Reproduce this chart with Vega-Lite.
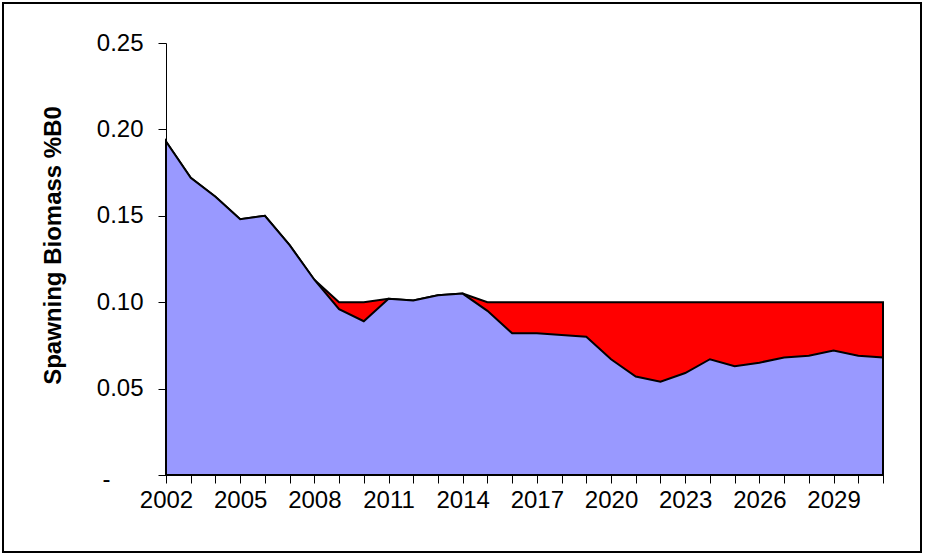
{
  "$schema": "https://vega.github.io/schema/vega-lite/v6.json",
  "width": 918,
  "height": 549,
  "autosize": {"type": "none"},
  "padding": {"left": 3, "top": 3, "right": 4, "bottom": 4},
  "background": "white",
  "config": {
    "view": {"stroke": "black", "strokeWidth": 2},
    "axis": {
      "grid": false,
      "domainColor": "black",
      "domainWidth": 1,
      "tickColor": "black",
      "tickWidth": 1,
      "tickSize": 8,
      "labelFont": "Liberation Sans",
      "labelFontSize": 24,
      "labelColor": "black",
      "labelOverlap": false,
      "labelFlush": false,
      "titleFont": "Liberation Sans",
      "titleColor": "black"
    }
  },
  "data": {
    "values": [
      {"year": 2002, "sb": 0.193, "upper": 0.193},
      {"year": 2003, "sb": 0.172, "upper": 0.172},
      {"year": 2004, "sb": 0.161, "upper": 0.161},
      {"year": 2005, "sb": 0.148, "upper": 0.148},
      {"year": 2006, "sb": 0.150, "upper": 0.150},
      {"year": 2007, "sb": 0.133, "upper": 0.133},
      {"year": 2008, "sb": 0.113, "upper": 0.113},
      {"year": 2009, "sb": 0.096, "upper": 0.100},
      {"year": 2010, "sb": 0.089, "upper": 0.100},
      {"year": 2011, "sb": 0.102, "upper": 0.102},
      {"year": 2012, "sb": 0.101, "upper": 0.101},
      {"year": 2013, "sb": 0.104, "upper": 0.104},
      {"year": 2014, "sb": 0.105, "upper": 0.105},
      {"year": 2015, "sb": 0.095, "upper": 0.100},
      {"year": 2016, "sb": 0.082, "upper": 0.100},
      {"year": 2017, "sb": 0.082, "upper": 0.100},
      {"year": 2018, "sb": 0.081, "upper": 0.100},
      {"year": 2019, "sb": 0.080, "upper": 0.100},
      {"year": 2020, "sb": 0.067, "upper": 0.100},
      {"year": 2021, "sb": 0.057, "upper": 0.100},
      {"year": 2022, "sb": 0.054, "upper": 0.100},
      {"year": 2023, "sb": 0.059, "upper": 0.100},
      {"year": 2024, "sb": 0.067, "upper": 0.100},
      {"year": 2025, "sb": 0.063, "upper": 0.100},
      {"year": 2026, "sb": 0.065, "upper": 0.100},
      {"year": 2027, "sb": 0.068, "upper": 0.100},
      {"year": 2028, "sb": 0.069, "upper": 0.100},
      {"year": 2029, "sb": 0.072, "upper": 0.100},
      {"year": 2030, "sb": 0.069, "upper": 0.100},
      {"year": 2031, "sb": 0.068, "upper": 0.100}
    ]
  },
  "encoding": {
    "x": {
      "field": "year",
      "type": "quantitative",
      "scale": {"domain": [2002, 2031], "range": [163, 880], "nice": false, "zero": false},
      "axis": {
        "orient": "bottom",
        "offset": -77,
        "title": null,
        "values": [2002, 2003, 2004, 2005, 2006, 2007, 2008, 2009, 2010, 2011, 2012, 2013, 2014, 2015, 2016, 2017, 2018, 2019, 2020, 2021, 2022, 2023, 2024, 2025, 2026, 2027, 2028, 2029, 2030, 2031],
        "labelExpr": "(datum.value - 2002) % 3 === 0 ? format(datum.value, 'd') : ''",
        "labelPadding": 5
      }
    }
  },
  "layer": [
    {
      "mark": {"type": "area", "fill": "#FF0000", "stroke": "black", "strokeWidth": 2, "opacity": 1, "fillOpacity": 1},
      "encoding": {
        "y": {
          "field": "upper",
          "type": "quantitative",
          "scale": {"domain": [0, 0.25], "range": [472, 40], "nice": false},
          "axis": {
            "orient": "left",
            "offset": -163,
            "title": "Spawning Biomass %B0",
            "titleFontSize": 24,
            "titleFontWeight": "bold",
            "titlePadding": 31,
            "titleY": 242,
            "values": [0, 0.05, 0.1, 0.15, 0.2, 0.25],
            "labelExpr": "datum.value === 0 ? '-' : format(datum.value, '.2f')",
            "labelPadding": {"condition": {"test": "datum.value === 0", "value": 48}, "value": 15},
            "labelOffset": {"condition": {"test": "datum.value === 0", "value": 4}, "value": 0}
          }
        }
      }
    },
    {
      "mark": {"type": "area", "fill": "#9999FF", "stroke": "black", "strokeWidth": 2, "opacity": 1, "fillOpacity": 1},
      "encoding": {
        "y": {
          "field": "sb",
          "type": "quantitative",
          "axis": {
            "orient": "left",
            "offset": -163,
            "title": "Spawning Biomass %B0",
            "titleFontSize": 24,
            "titleFontWeight": "bold",
            "titlePadding": 31,
            "titleY": 242,
            "values": [0, 0.05, 0.1, 0.15, 0.2, 0.25],
            "labelExpr": "datum.value === 0 ? '-' : format(datum.value, '.2f')",
            "labelPadding": {"condition": {"test": "datum.value === 0", "value": 48}, "value": 15},
            "labelOffset": {"condition": {"test": "datum.value === 0", "value": 4}, "value": 0}
          }
        }
      }
    }
  ]
}
